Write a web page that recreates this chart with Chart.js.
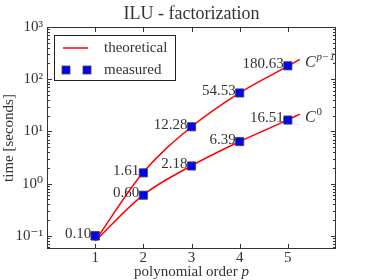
<!DOCTYPE html>
<html>
<head>
<meta charset="utf-8">
<script src="https://cdn.jsdelivr.net/npm/chart.js@4/dist/chart.umd.min.js"></script>
<style>
  html, body { margin: 0; padding: 0; background: #fff; }
  canvas { display: block; }
</style>
</head>
<body>
<canvas id="chart" width="374" height="280"></canvas>
<script>
const orders = [1, 2, 3, 4, 5];
const measuredCp1 = [0.10, 1.61, 12.28, 54.53, 180.63];
const measuredC0 = [0.10, 0.60, 2.18, 6.39, 16.51];
const labelsCp1 = ['0.10', '1.61', '12.28', '54.53', '180.63'];
const labelsC0 = ['', '0.60', '2.18', '6.39', '16.51'];

// theoretical curves
const theoryX = [1, 2, 3, 4, 5, 5.25];
const theoryCp1 = [0.08, 1.65, 12.3, 55, 178, 240];
const theoryC0 = [0.08, 0.61, 2.2, 6.4, 16.6, 21.5];

const xTicks = [1, 2, 3, 4, 5];
const yTicks = [0.1, 1, 10, 100, 1000];
const yTickLabels = ['10⁻¹', '10⁰', '10¹', '10²', '10³'];

const serif = '"Liberation Serif", "DejaVu Serif", serif';
const ink = '#333';

const pts = (xs, ys) => xs.map((x, i) => ({ x: x, y: ys[i] }));

const decorations = {
  id: 'decorations',
  afterDatasetsDraw(chart) {
    const ctx = chart.ctx;
    const a = chart.chartArea;
    const xs = chart.scales.x;
    const ys = chart.scales.y;
    ctx.save();

    // frame
    ctx.strokeStyle = ink;
    ctx.lineWidth = 1;
    ctx.strokeRect(a.left + 0.5, a.top + 0.5, a.right - a.left - 1, a.bottom - a.top - 1);

    // inward ticks on all sides
    ctx.beginPath();
    xTicks.forEach(v => {
      const px = Math.round(xs.getPixelForValue(v)) + 0.5;
      ctx.moveTo(px, a.bottom); ctx.lineTo(px, a.bottom - 5);
      ctx.moveTo(px, a.top); ctx.lineTo(px, a.top + 5);
    });
    yTicks.forEach(v => {
      const py = Math.round(ys.getPixelForValue(v)) + 0.5;
      ctx.moveTo(a.left, py); ctx.lineTo(a.left + 5, py);
      ctx.moveTo(a.right, py); ctx.lineTo(a.right - 5, py);
    });
    for (let d = -2; d < 3; d++) {
      for (let k = 2; k < 10; k++) {
        const v = k * Math.pow(10, d);
        if (v < ys.min || v > ys.max) continue;
        const py = Math.round(ys.getPixelForValue(v)) + 0.5;
        ctx.moveTo(a.left, py); ctx.lineTo(a.left + 3, py);
        ctx.moveTo(a.right, py); ctx.lineTo(a.right - 3, py);
      }
    }
    ctx.stroke();

    // value labels
    ctx.fillStyle = ink;
    ctx.font = '15px ' + serif;
    ctx.textAlign = 'right';
    ctx.textBaseline = 'alphabetic';
    const drawLabels = (vals, labels) => {
      vals.forEach((v, i) => {
        if (!labels[i]) return;
        const px = xs.getPixelForValue(orders[i]);
        const py = ys.getPixelForValue(v);
        ctx.fillText(labels[i], px - 4, py + 2);
      });
    };
    drawLabels(measuredCp1, labelsCp1);
    drawLabels(measuredC0, labelsC0);
    ctx.restore();
  },
  afterDraw(chart) {
    const ctx = chart.ctx;
    const a = chart.chartArea;
    const xs = chart.scales.x;
    const ys = chart.scales.y;
    ctx.save();
    ctx.fillStyle = ink;

    // title
    ctx.font = '18px ' + serif;
    ctx.textAlign = 'center';
    ctx.textBaseline = 'middle';
    ctx.fillText('ILU - factorization', (a.left + a.right) / 2, 14);

    // x axis title with italic p
    const t1 = 'polynomial order ';
    ctx.font = 'italic 15px ' + serif;
    const wp = ctx.measureText('p').width;
    ctx.font = '15px ' + serif;
    const w1 = ctx.measureText(t1).width;
    const x0 = (a.left + a.right) / 2 - (w1 + wp) / 2;
    ctx.textAlign = 'left';
    ctx.fillText(t1, x0, 272);
    ctx.font = 'italic 15px ' + serif;
    ctx.fillText('p', x0 + w1, 272);

    // y axis title
    ctx.font = '15px ' + serif;
    ctx.save();
    ctx.translate(9, (a.top + a.bottom) / 2);
    ctx.rotate(-Math.PI / 2);
    ctx.textAlign = 'center';
    ctx.fillText('time [seconds]', 0, 0);
    ctx.restore();

    // curve annotations
    const endX = xs.getPixelForValue(theoryX[theoryX.length - 1]);
    const cy1 = ys.getPixelForValue(theoryCp1[theoryCp1.length - 1]);
    const cy0 = ys.getPixelForValue(theoryC0[theoryC0.length - 1]);
    ctx.textAlign = 'left';
    ctx.textBaseline = 'alphabetic';
    ctx.font = 'italic 16px ' + serif;
    const wc = ctx.measureText('C').width;
    ctx.fillText('C', endX + 5, cy1 + 8);
    ctx.font = 'italic 11px ' + serif;
    ctx.fillText('p−1', endX + 6 + wc, cy1 + 1);
    ctx.font = 'italic 16px ' + serif;
    ctx.fillText('C', endX + 5, cy0 + 8);
    ctx.font = '11px ' + serif;
    ctx.fillText('0', endX + 6 + wc, cy0 + 1);

    // legend
    ctx.strokeStyle = '#222';
    ctx.lineWidth = 1;
    ctx.fillStyle = '#fff';
    ctx.fillRect(54.5, 35.5, 121, 45);
    ctx.strokeRect(54.5, 35.5, 121, 45);
    ctx.strokeStyle = '#ff0000';
    ctx.lineWidth = 1.5;
    ctx.beginPath();
    ctx.moveTo(63, 48); ctx.lineTo(88, 48);
    ctx.stroke();
    ctx.fillStyle = '#0000ff';
    ctx.strokeStyle = '#444';
    ctx.lineWidth = 0.8;
    [66, 87].forEach(cx => {
      ctx.fillRect(cx - 4, 66, 8, 8);
      ctx.strokeRect(cx - 4, 66, 8, 8);
    });
    ctx.fillStyle = ink;
    ctx.font = '15px ' + serif;
    ctx.textBaseline = 'middle';
    ctx.fillText('theoretical', 104, 48);
    ctx.fillText('measured', 104, 70);
    ctx.restore();
  }
};

new Chart(document.getElementById('chart'), {
  type: 'line',
  data: {
    datasets: [
      {
        label: 'measured',
        data: pts(orders, measuredCp1),
        showLine: false,
        pointStyle: 'rect',
        pointRadius: 5.8,
        backgroundColor: '#0000ff',
        borderColor: '#444',
        borderWidth: 0.8,
        order: 0
      },
      {
        label: 'measured C0',
        data: pts(orders, measuredC0),
        showLine: false,
        pointStyle: 'rect',
        pointRadius: 5.8,
        backgroundColor: '#0000ff',
        borderColor: '#444',
        borderWidth: 0.8,
        order: 0
      },
      {
        label: 'theoretical',
        data: pts(theoryX, theoryCp1),
        borderColor: '#ff0000',
        borderWidth: 1.5,
        pointRadius: 0,
        cubicInterpolationMode: 'monotone',
        order: 1
      },
      {
        label: 'theoretical C0',
        data: pts(theoryX, theoryC0),
        borderColor: '#ff0000',
        borderWidth: 1.5,
        pointRadius: 0,
        cubicInterpolationMode: 'monotone',
        order: 1
      }
    ]
  },
  options: {
    responsive: false,
    animation: false,
    layout: { padding: { top: 27, right: 38, left: 0, bottom: 0 } },
    plugins: { legend: { display: false }, tooltip: { enabled: false }, title: { display: false } },
    scales: {
      x: {
        type: 'linear',
        min: 0,
        max: 6,
        grid: { display: false, drawTicks: false },
        border: { display: false },
        afterBuildTicks: s => { s.ticks = xTicks.map(v => ({ value: v })); },
        afterFit: s => { s.height = 31; },
        ticks: { color: ink, padding: 0, font: { family: serif, size: 15 }, callback: v => String(v) }
      },
      y: {
        type: 'logarithmic',
        min: 0.056,
        max: 1000,
        grid: { display: false, drawTicks: false },
        border: { display: false },
        afterBuildTicks: s => { s.ticks = yTicks.map(v => ({ value: v })); },
        afterFit: s => { s.width = 47; },
        ticks: {
          color: ink,
          padding: 4,
          font: { family: serif, size: 15 },
          callback: v => yTickLabels[yTicks.indexOf(v)]
        }
      }
    }
  },
  plugins: [decorations]
});
</script>
</body>
</html>
